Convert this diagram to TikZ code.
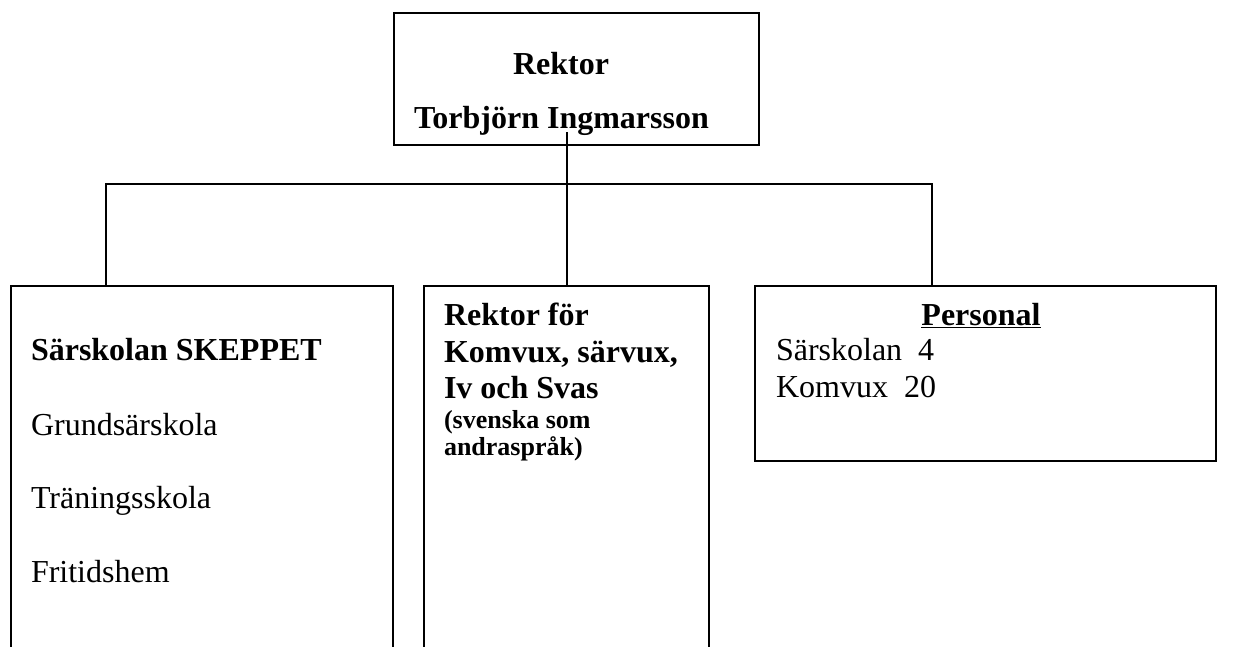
\documentclass[tikz,border=0pt]{standalone}
\usepackage{fontspec}
\setmainfont{Liberation Serif}

\begin{document}
\begin{tikzpicture}[x=1pt, y=-1pt, line width=2pt,
    box/.style={draw, rectangle, inner sep=0pt, anchor=north west},
    txt/.style={anchor=base west, inner sep=0pt, font=\fontsize{32}{37}\selectfont},
    bold/.style={txt, font=\fontsize{32}{37}\selectfont\bfseries},
    small/.style={txt, font=\fontsize{26}{30}\selectfont\bfseries}]
        \useasboundingbox (0,0) rectangle (1260,646);
        \clip (0,0) rectangle (1260,646);

        % Boxes
        \node (rektor) [box, minimum width=365pt, minimum height=132pt] at (393,12) {};
        \node (sar) [box, minimum width=382pt, minimum height=500pt] at (10,285) {};
        \node (mid) [box, minimum width=285pt, minimum height=500pt] at (423,285) {};
        \node (pers) [box, minimum width=461pt, minimum height=175pt] at (754,285) {};

        % Texts
        \node (rektor1) [bold] at (512,74) {Rektor};
        \node (rektor2) [bold] at (413,128) {Torbjörn Ingmarsson};

        \node (sar1) [bold] at (30,360) {Särskolan SKEPPET};
        \node (sar2) [txt] at (30,435) {Grundsärskola};
        \node (sar3) [txt] at (30,508) {Träningsskola};
        \node (sar4) [txt] at (30,582) {Fritidshem};

        \node (mid1) [bold] at (443,325) {Rektor för};
        \node (mid2) [bold] at (443,362) {Komvux, särvux,};
        \node (mid3) [bold] at (443,398) {Iv och Svas};
        \node (mid4) [small] at (443,428) {(svenska som};
        \node (mid5) [small] at (443,455) {andraspråk)};

        \node (pers1) [bold, anchor=base] at (981,325) {\underline{Personal}};
        \node (pers2) [txt] at (775,360) {Särskolan\ \ 4};
        \node (pers3) [txt] at (775,397) {Komvux\ \ 20};

        % Lines between them
        \coordinate (stem) at (567,132);
        \coordinate (barL) at (106,184);
        \coordinate (barR) at (932,184);
        \draw (stem) -- (stem |- mid.north);
        \draw (barL |- sar.north) -- (barL) -- (barR) -- (barR |- pers.north);
    \end{tikzpicture}
\end{document}
